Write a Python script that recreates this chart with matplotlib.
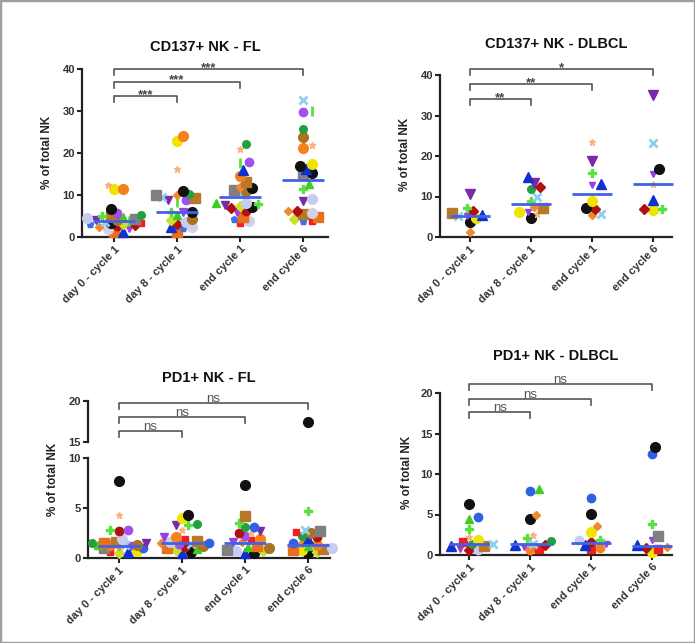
import matplotlib.pyplot as plt
from matplotlib.patches import Rectangle

plt.rcParams['font.family'] = ['Liberation Sans', 'DejaVu Sans']
plt.rcParams['font.weight'] = 'bold'

W, H = 695, 643

# ## Data
categories = ['day 0 - cycle 1', 'day 8 - cycle 1', 'end cycle 1', 'end cycle 6']

# patient -> value at each time point (None = not shown)
cd137_fl = {
    'F01': [11.5, 22.9, None, 17.3], 'F02': [11.5, 24.0, 14.5, 21.3],
    'F03': [12.3, 16.1, 20.9, 21.8], 'F04': [6.6, 11.0, 11.6, 17.0],
    'F05': [5.2, 10.2, 22.1, 25.8], 'F06': [5.6, 8.8, 17.8, 29.8],
    'F07': [5.0, 9.2, 13.0, 5.5], 'F08': [5.0, 6.0, 7.8, 11.5],
    'F09': [4.8, 5.3, 8.0, 12.6], 'F10': [4.0, 8.8, 7.6, 8.6],
    'F11': [4.2, 10.1, 11.2, 14.8], 'F12': [3.5, 9.5, 10.4, 32.6],
    'F13': [4.5, 3.6, 8.1, 9.1], 'F14': [2.8, 3.2, 7.0, 6.2],
    'F15': [1.2, 1.3, 4.7, 4.7], 'F16': [1.3, 2.3, 16.0, 16.3],
    'F17': [2.5, 10.0, 12.0, 6.2], 'F18': [3.8, 8.4, 17.7, 30.0],
    'F19': [4.0, 4.2, 11.0, 23.8], 'F20': [3.0, 2.2, 4.2, 3.7],
    'F21': [3.3, None, 3.3, 3.9], 'F22': [3.4, 6.0, 7.2, 15.3],
    'F23': [2.0, 2.5, 3.8, 5.8], 'F24': [3.0, 4.0, 7.5, 4.2],
    'F25': [2.2, 5.9, 6.0, None], 'F26': [2.6, None, 6.3, None],
}
cd137_dlbcl = {
    'D01': [10.6, 13.3, 18.8, 35.1], 'D02': [7.2, 8.9, 15.9, 6.9],
    'D03': [6.4, 12.4, 6.9, 6.9], 'D04': [6.0, 7.1, None, None],
    'D05': [5.4, 14.7, 13.2, 9.1], 'D06': [5.2, 6.2, 12.9, 15.5],
    'D07': [5.2, 9.9, 5.8, 23.1], 'D08': [4.6, 6.2, 8.9, 6.6],
    'D09': [3.6, 4.6, 7.2, 16.9], 'D10': [1.3, 7.3, 5.4, None],
    'D11': [None, 5.8, 23.5, 13.0], 'D12': [None, 11.8, None, None],
}
pd1_fl = {
    'F04': [7.7, 4.3, 7.3, 17.4], 'F01': [0.7, 4.0, None, 0.8],
    'F08': [2.8, 3.3, 3.5, 4.7], 'F10': [1.5, 3.3, 2.7, None],
    'F05': [1.5, 3.4, 3.1, 2.2], 'F03': [4.3, 2.8, 2.5, None],
    'F25': [1.2, 2.1, 1.6, None], 'F02': [1.3, 2.1, 1.9, 1.3],
    'F21': [0.6, 1.9, 1.8, 2.6], 'F07': [1.6, 1.7, 4.2, 0.9],
    'F27': [1.0, 1.5, 3.1, 1.5], 'F26': [2.7, 1.1, 2.5, 2.1],
    'F17': [1.2, 1.5, 1.6, 1.5], 'F12': [1.3, 1.4, None, 2.8],
    'F13': [1.9, 1.6, 0.7, 1.0], 'F22': [None, 0.6, 0.5, 0.5],
    'F16': [0.6, 0.5, 0.5, 1.9], 'F11': [1.0, None, 0.8, 2.7],
    'F19': [1.3, 1.2, 1.0, 2.5], 'F06': [2.8, 1.4, 2.2, None],
    'F15': [1.5, 1.0, 1.2, 0.8], 'F24': [0.5, 0.8, 0.7, 0.6],
    'F09': [1.3, 0.9, 1.1, 1.2],
}
pd1_dlbcl = {
    'D09': [6.3, 4.4, 5.1, 13.3], 'D13': [4.7, 7.9, 7.0, 12.5],
    'D14': [4.4, 8.2, None, None], 'D02': [3.2, 2.1, 1.8, 3.8],
    'D11': [2.2, 2.5, None, None], 'D04': [1.1, None, None, None],
    'D15': [1.6, 0.7, 0.7, 0.8], 'D12': [1.4, 1.7, None, None],
    'D08': [1.8, None, 2.9, 0.4], 'D05': [1.1, 1.2, 1.2, 1.2],
    'D07': [1.3, 1.4, None, None], 'D06': [0.8, 1.0, 1.4, 1.9],
    'D03': [0.6, 1.2, 1.6, 0.9], 'D10': [None, 4.9, 3.6, 1.0],
    'D16': [None, 0.6, 0.9, None], 'D17': [0.6, None, 1.9, None],
    'D18': [None, None, None, 2.4],
}

# median lines
med_cd137_fl = [3.8, 5.9, 9.5, 13.6]
med_cd137_dlbcl = [5.1, 8.1, 10.7, 13.1]
med_pd1_fl = [1.2, 1.5, 1.5, 1.35]
med_pd1_dlbcl = [1.3, 1.35, 1.5, 1.1]

# comparisons: (group a, group b, bracket height, label)
sig_cd137_fl = [(0, 1, 33.5, '***'), (0, 2, 37.0, '***'), (0, 3, 40.0, '***')]
sig_cd137_dlbcl = [(0, 1, 34.0, '**'), (0, 2, 37.8, '**'), (0, 3, 41.5, '*')]
sig_pd1_fl = [(0, 1, 16.3, 'ns'), (0, 2, 18.0, 'ns'), (0, 3, 19.7, 'ns')]
sig_pd1_dlbcl = [(0, 1, 17.7, 'ns'), (0, 2, 19.3, 'ns'), (0, 3, 21.1, 'ns')]

# marker, colour, size for each patient
style = {
    'F01': ('o', '#f0e400', 7), 'F02': ('o', '#f7801e', 7),
    'F03': ('*', '#fbb07a', 5), 'F04': ('o', '#111111', 7),
    'F05': ('o', '#22a040', 5.5), 'F06': ('o', '#a050f0', 6),
    'F07': ('s', '#b8782a', 6.5), 'F08': ('P', '#5ae040', 6),
    'F09': ('^', '#40cc20', 6), 'F10': ('v', '#7a2aa8', 6),
    'F11': ('s', '#808080', 6.5), 'F12': ('x', '#8cd0f0', 6),
    'F13': ('o', '#c8ccf0', 7), 'F14': ('D', '#b01010', 5),
    'F15': ('s', '#e8701a', 6.5), 'F16': ('^', '#1030d0', 7),
    'F17': ('D', '#f08a30', 4), 'F18': ('|', '#5ae040', 7),
    'F19': ('o', '#a87420', 7), 'F20': ('p', '#4070e0', 5),
    'F21': ('s', '#f02020', 4), 'F22': ('o', '#111111', 7),
    'F23': ('o', '#d0d0e8', 7), 'F24': ('D', '#c8e030', 5),
    'F25': ('v', '#9a40e0', 5.5), 'F26': ('o', '#b01010', 6),
    'F27': ('o', '#3060e8', 6),
    'D01': ('v', '#7a2aa8', 7), 'D02': ('P', '#5ae040', 6),
    'D03': ('D', '#b01010', 5.5), 'D04': ('s', '#b8782a', 6.5),
    'D05': ('^', '#1030d0', 6.5), 'D06': ('v', '#9a40e0', 5),
    'D07': ('x', '#8cd0f0', 6), 'D08': ('o', '#f0e400', 7),
    'D09': ('o', '#111111', 7), 'D10': ('D', '#f08a30', 4),
    'D11': ('*', '#fbb07a', 5), 'D12': ('o', '#22a040', 5.5),
    'D13': ('o', '#3060e8', 6), 'D14': ('^', '#40cc20', 6),
    'D15': ('s', '#f02020', 6), 'D16': ('o', '#f7801e', 6),
    'D17': ('o', '#c8ccf0', 6), 'D18': ('s', '#808080', 6.5),
}

fig = plt.figure(figsize=(W / 100, H / 100), dpi=100)


def rect(left, right, bottom, top):
    return [left / W, 1 - bottom / H, (right - left) / W, (bottom - top) / H]


def style_axis(ax, ylim, yticks, bottom=True):
    ax.set_ylim(*ylim)
    ax.set_yticks(yticks)
    for s in ['top', 'right']:
        ax.spines[s].set_visible(False)
    for s in ['left', 'bottom']:
        ax.spines[s].set_linewidth(1.6)
        ax.spines[s].set_color('#222222')
    ax.tick_params(axis='both', width=1.5, length=3.5, pad=1.5,
                   labelsize=8, labelcolor='#333333', color='#222222')
    if bottom:
        ax.set_xticks(range(4))
        ax.set_xticklabels(categories, rotation=45, ha='right',
                           rotation_mode='anchor', fontsize=8)
    else:
        ax.spines['bottom'].set_visible(False)
        ax.set_xticks([])


def swarm(ax, data, meds=None, spread=27, dmin=6.5):
    # lay points out side by side around the category centre
    inv = ax.transData.inverted()
    cands = [0]
    for k in range(1, int(spread / 3) + 1):
        cands += [3 * k, -3 * k]
    for ci in range(4):
        pts = sorted((vals[ci], p) for p, vals in data.items()
                     if vals[ci] is not None)
        placed = []
        for v, p in pts:
            x0, y0 = ax.transData.transform((ci, v))
            best, best_d = x0, -1
            for off in cands:
                xx = x0 + off
                d = min([((xx - a) ** 2 + (y0 - b) ** 2) ** 0.5
                         for a, b in placed] + [99])
                if d >= dmin:
                    best = xx
                    break
                if d > best_d:
                    best, best_d = xx, d
            placed.append((best, y0))
            xd = inv.transform((best, y0))[0]
            m, c, s = style[p]
            ax.plot(xd, v, marker=m, color=c, ms=s, ls='none',
                    mew=2 if m in 'x|' else 1, clip_on=False, zorder=3)
        if meds is not None:
            ax.hlines(meds[ci], ci - 0.33, ci + 0.33, color='#4262e6', lw=2,
                      zorder=4, clip_on=False)


def brackets(ax, sigs, px_per_unit):
    leg = 6 / px_per_unit
    for a, b, y, lab in sigs:
        ax.plot([a, a, b, b], [y - leg, y, y, y - leg], color='#555555',
                lw=1.2, clip_on=False, zorder=2)
        if lab == 'ns':
            ax.text((a + b) / 2, y + 1 / px_per_unit, lab, ha='center',
                    va='baseline', fontsize=9.5, fontweight='normal',
                    color='#555555')
        else:
            ax.text((a + b) / 2, y + 1 / px_per_unit, lab, ha='center',
                    va='center', fontsize=9.5, color='#444444')


# CD137+ NK - FL
ax1 = fig.add_axes(rect(82, 328, 237, 69))
ax1.set_xlim(-0.508, 3.397)
style_axis(ax1, (0, 40), [0, 10, 20, 30, 40])
swarm(ax1, cd137_fl, med_cd137_fl)
brackets(ax1, sig_cd137_fl, 168 / 40)

# CD137+ NK - DLBCL
ax2 = fig.add_axes(rect(440, 672, 237, 75))
ax2.set_xlim(-0.49, 3.31)
style_axis(ax2, (0, 40), [0, 10, 20, 30, 40])
swarm(ax2, cd137_dlbcl, med_cd137_dlbcl)
brackets(ax2, sig_cd137_dlbcl, 162 / 40)

# PD1+ NK - FL (broken axis)
low_fl = {p: [v if v is not None and v <= 10 else None for v in vals]
          for p, vals in pd1_fl.items()}
high_fl = {p: [v if v is not None and v >= 15 else None for v in vals]
           for p, vals in pd1_fl.items()}
ax3 = fig.add_axes(rect(88, 330, 558, 458))
ax3.set_xlim(-0.49, 3.35)
style_axis(ax3, (0, 10), [0, 5, 10])
swarm(ax3, low_fl, med_pd1_fl)
ax3t = fig.add_axes(rect(88, 330, 442, 401))
ax3t.set_xlim(-0.49, 3.35)
ax3t.patch.set_alpha(0)
style_axis(ax3t, (15, 20), [15, 20], bottom=False)
swarm(ax3t, high_fl)
brackets(ax3t, sig_pd1_fl, 41 / 5)

# PD1+ NK - DLBCL
ax4 = fig.add_axes(rect(440, 672, 555, 393))
ax4.set_xlim(-0.48, 3.33)
style_axis(ax4, (0, 20), [0, 5, 10, 15, 20])
swarm(ax4, pd1_dlbcl, med_pd1_dlbcl)
brackets(ax4, sig_pd1_dlbcl, 162 / 20)

# titles and y labels
for x, y, t in [(205, 47, 'CD137+ NK - FL'), (556, 44, 'CD137+ NK - DLBCL'),
                (209, 378, 'PD1+ NK - FL'), (556, 356, 'PD1+ NK - DLBCL')]:
    fig.text(x / W, 1 - y / H, t, ha='center', va='center', fontsize=10.5,
             color='#111111')
for x, y in [(47, 152), (405, 154), (53, 479), (407, 472)]:
    fig.text(x / W, 1 - y / H, '% of total NK', ha='center', va='center',
             rotation=90, fontsize=8.5, color='#222222')

fig.patches.append(Rectangle((0, 0), 1, 1, transform=fig.transFigure,
                             fill=False, edgecolor='#a0a0a0', lw=2.5))

fig.savefig('out.png', dpi=100)
